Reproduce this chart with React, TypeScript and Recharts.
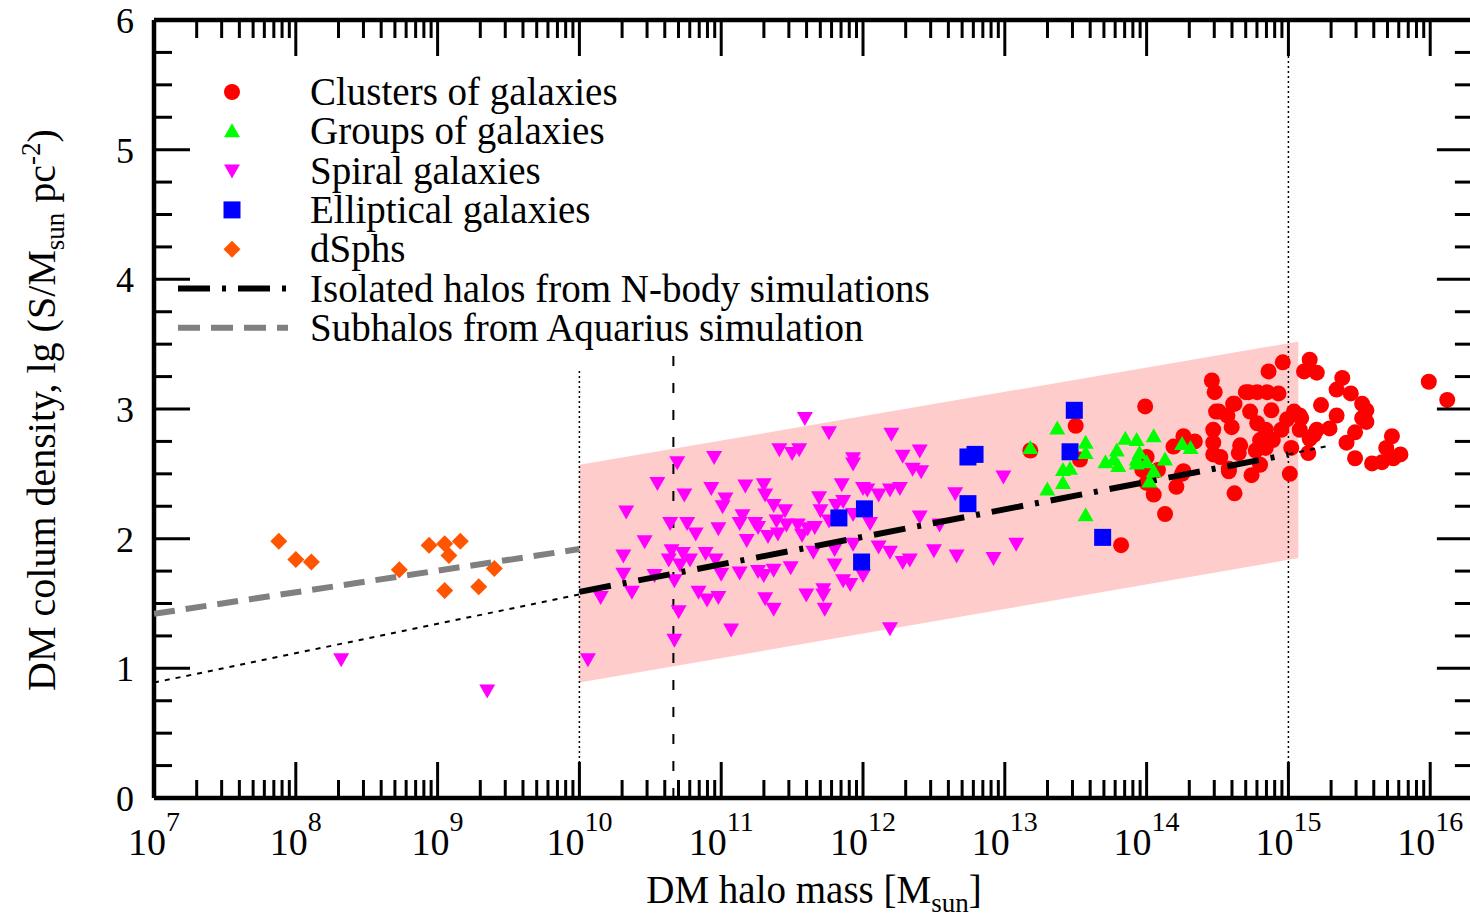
import React from "react";
import {
  ComposedChart,
  XAxis,
  YAxis,
  Scatter,
  Line,
  Area,
  ReferenceLine,
  Legend,
} from "recharts";

const FONT = '"Liberation Serif", "Times New Roman", "DejaVu Serif", serif';

// [lg M, lg S]
const clustersLg: [number, number][] = [
  [13.18, 2.68], [13.5, 2.87], [13.53, 2.61], [13.82, 1.95], [13.99, 3.02], [13.97, 2.53],
  [14.0, 2.63], [14.08, 2.53], [14.0, 2.43], [14.05, 2.34], [14.13, 2.19], [14.21, 2.4],
  [14.25, 2.5], [14.26, 2.79], [14.19, 2.71], [14.34, 2.75], [14.46, 3.22], [14.48, 3.13],
  [14.49, 2.98], [14.47, 2.84], [14.47, 2.74], [14.47, 2.65], [14.52, 2.63], [14.58, 2.54],
  [14.62, 2.35], [14.65, 2.66], [14.62, 3.04], [14.6, 2.86], [14.57, 2.95], [14.72, 3.13],
  [14.78, 3.13], [14.85, 3.13], [14.93, 3.12], [14.86, 3.29], [14.96, 3.36], [14.73, 2.98],
  [14.78, 2.89], [14.88, 2.99], [14.84, 2.84], [14.82, 2.72], [14.74, 2.49], [14.8, 2.57],
  [14.99, 2.92], [14.95, 2.84], [14.89, 2.76], [15.01, 2.5], [15.08, 2.95], [15.15, 3.38],
  [15.11, 3.29], [15.2, 3.28], [15.08, 2.84], [15.15, 2.77], [15.14, 2.66], [15.2, 2.84],
  [15.23, 3.03], [15.29, 2.85], [15.34, 2.95], [15.34, 3.15], [15.38, 3.24], [15.44, 3.12],
  [15.52, 3.04], [15.55, 2.99], [15.52, 2.93], [15.55, 2.9], [15.47, 2.82], [15.41, 2.74],
  [15.47, 2.62], [15.59, 2.58], [15.66, 2.59], [15.73, 2.79], [15.69, 2.7], [15.74, 2.62],
  [15.79, 2.65], [15.99, 3.21], [16.12, 3.07], [15.04, 2.98], [14.66, 2.72], [14.27, 2.76],
  [14.26, 2.52], [14.58, 2.52], [14.77, 2.68], [14.8, 2.76], [14.84, 2.7], [15.09, 2.93],
  [15.02, 2.7], [15.18, 2.8], [14.7, 3.13], [14.61, 3.04], [14.51, 2.98],
];

const groupsLg: [number, number][] = [
  [13.18, 2.7], [13.37, 2.85], [13.57, 2.74], [13.57, 2.66], [13.41, 2.53], [13.46, 2.54],
  [13.41, 2.43], [13.3, 2.38], [13.57, 2.18], [13.71, 2.59], [13.77, 2.61], [13.79, 2.68],
  [13.8, 2.56], [13.85, 2.77], [13.93, 2.76], [13.93, 2.61], [13.95, 2.66], [14.05, 2.79],
  [13.93, 2.58], [14.0, 2.59], [14.13, 2.61], [14.05, 2.52], [14.02, 2.44], [14.25, 2.73],
  [14.31, 2.7],
];

const spiralsLg: [number, number][] = [
  [8.32, 1.07], [9.35, 0.83], [10.06, 1.07],
  [11.59, 2.93], [11.76, 2.82], [11.41, 2.69], [11.5, 2.66], [11.55, 2.69], [10.95, 2.63],
  [10.69, 2.59], [11.93, 2.62], [11.93, 2.58], [10.55, 2.43], [10.74, 2.34], [10.93, 2.39],
  [11.03, 2.31], [11.01, 2.25], [11.17, 2.41], [11.3, 2.42], [11.31, 2.34], [11.37, 2.26],
  [11.45, 2.22], [10.33, 2.21], [11.85, 2.42], [11.86, 2.29], [11.81, 2.26], [11.69, 2.32],
  [11.7, 2.22], [11.76, 2.14], [12.0, 2.39], [10.64, 2.12], [10.76, 2.12], [10.82, 2.04],
  [10.98, 2.08], [11.15, 2.18], [11.13, 2.12], [11.24, 2.12], [11.26, 2.09], [11.39, 2.14],
  [11.46, 2.11], [11.54, 2.11], [11.61, 2.08], [11.66, 2.09], [11.57, 2.03], [11.18, 1.99],
  [11.33, 2.02], [11.4, 2.04], [10.46, 1.98], [10.65, 1.91], [10.73, 1.89], [10.78, 1.84],
  [10.89, 1.89], [10.63, 1.84], [10.71, 1.8], [10.96, 1.84], [10.31, 1.87], [10.31, 1.73],
  [10.53, 1.72], [10.67, 1.68], [11.0, 1.73], [11.13, 1.74], [11.26, 1.75], [11.37, 1.76],
  [11.3, 1.72], [11.49, 1.78], [11.8, 1.8], [11.65, 1.9], [11.8, 1.92], [11.93, 1.96],
  [11.86, 1.68], [11.91, 1.65], [12.0, 1.72], [10.15, 1.55], [10.37, 1.59], [10.84, 1.59],
  [10.9, 1.53], [10.98, 1.55], [11.31, 1.54], [11.37, 1.46], [11.6, 1.57], [11.72, 1.61],
  [11.72, 1.57], [11.73, 1.46], [10.7, 1.44], [11.07, 1.3], [10.67, 1.22],
  [12.2, 2.81], [12.28, 2.64], [12.4, 2.68], [12.35, 2.54], [12.41, 2.52], [12.03, 2.38],
  [12.11, 2.34], [12.19, 2.38], [12.26, 2.39], [12.65, 2.35], [12.99, 2.48], [11.93, 2.19],
  [12.05, 2.12], [12.4, 2.17], [12.54, 2.11], [12.11, 1.94], [12.19, 1.9], [12.5, 1.91],
  [12.66, 1.87], [12.28, 1.82], [12.33, 1.84], [12.92, 1.85], [13.08, 1.96], [12.19, 1.31],
];

const ellipticalsLg: [number, number][] = [
  [11.83, 2.16], [12.01, 2.23], [11.99, 1.82], [12.74, 2.63], [12.79, 2.65],
  [12.74, 2.27], [13.49, 2.99], [13.46, 2.67], [13.69, 2.01],
];

const dsphsLg: [number, number][] = [
  [7.88, 1.98], [8.0, 1.84], [8.11, 1.82], [8.73, 1.76], [8.94, 1.95], [9.05, 1.96],
  [9.16, 1.98], [9.08, 1.87], [9.4, 1.77], [9.05, 1.6], [9.29, 1.63],
];

// lines
const isolatedLg: [number, number][] = [[10, 1.59], [15, 2.65]];
const isolatedLeftLg: [number, number][] = [[7, 0.89], [10, 1.57]];
const isolatedRightLg: [number, number][] = [[15, 2.65], [15.3, 2.72]];
const subhalosLg: [number, number][] = [[7, 1.42], [10, 1.92]];

// pink band: [lg M, lower, upper]
const bandLg: [number, number, number][] = [
  [10, 0.89, 2.57],
  [15.07, 1.85, 3.52],
];

const toPts = (arr: [number, number][]) => arr.map(([lm, s]) => ({ m: Math.pow(10, lm), s }));

const clusters = toPts(clustersLg);
const groups = toPts(groupsLg);
const spirals = toPts(spiralsLg);
const ellipticals = toPts(ellipticalsLg);
const dsphs = toPts(dsphsLg);
const isolated = toPts(isolatedLg);
const isolatedLeft = toPts(isolatedLeftLg);
const isolatedRight = toPts(isolatedRightLg);
const subhalos = toPts(subhalosLg);
const band = bandLg.map(([lm, lo, hi]) => ({ m: Math.pow(10, lm), band: [lo, hi] }));

const xTicks: number[] = [];
for (let n = 7; n <= 16; n++) {
  for (let k = 1; k <= 9; k++) {
    if (n === 16 && k > 1) break;
    xTicks.push(k * Math.pow(10, n));
  }
}
const yTicks: number[] = [];
for (let i = 0; i <= 24; i++) yTicks.push(i * 0.25);

const isMajorX = (v: number) => {
  const l = Math.log10(v);
  return Math.abs(l - Math.round(l)) < 1e-6;
};

const MAJOR = 36;
const MINOR = 18;

const XTickBottom = (props: any) => {
  const { x, y, payload } = props;
  const major = isMajorX(payload.value);
  const lg = Math.round(Math.log10(payload.value));
  return (
    <g>
      <line x1={x} x2={x} y1={y} y2={y - (major ? MAJOR : MINOR)} stroke="#000" strokeWidth={3} />
      {major && (
        <text x={x} y={y + 57} textAnchor="middle" fontSize={38} fontFamily={FONT} fill="#000">
          10
          <tspan dy={-24} fontSize={28}>{lg}</tspan>
        </text>
      )}
    </g>
  );
};

const XTickTop = (props: any) => {
  const { x, y, payload } = props;
  const major = isMajorX(payload.value);
  return <line x1={x} x2={x} y1={y} y2={y + (major ? MAJOR : MINOR)} stroke="#000" strokeWidth={3} />;
};

const YTickLeft = (props: any) => {
  const { x, y, payload } = props;
  const major = Math.abs(payload.value - Math.round(payload.value)) < 1e-6;
  return (
    <g>
      <line x1={x} x2={x + (major ? MAJOR : MINOR)} y1={y} y2={y} stroke="#000" strokeWidth={3} />
      {major && (
        <text x={x - 20} y={y + 13} textAnchor="end" fontSize={36} fontFamily={FONT} fill="#000">
          {Math.round(payload.value)}
        </text>
      )}
    </g>
  );
};

const YTickRight = (props: any) => {
  const { x, y, payload } = props;
  const major = Math.abs(payload.value - Math.round(payload.value)) < 1e-6;
  return <line x1={x} x2={x - (major ? MAJOR : MINOR)} y1={y} y2={y} stroke="#000" strokeWidth={3} />;
};

const Dot = (p: any) => <circle cx={p.cx} cy={p.cy} r={8} fill="#ff0000" />;
const TriUp = (p: any) => (
  <polygon points={`${p.cx},${p.cy - 8} ${p.cx + 8},${p.cy + 6} ${p.cx - 8},${p.cy + 6}`} fill="#00ff00" />
);
const TriDown = (p: any) => (
  <polygon points={`${p.cx},${p.cy + 8} ${p.cx + 8},${p.cy - 6} ${p.cx - 8},${p.cy - 6}`} fill="#ff00ff" />
);
const Square = (p: any) => <rect x={p.cx - 8.5} y={p.cy - 8.5} width={17} height={17} fill="#0000ff" />;
const Diamond = (p: any) => (
  <polygon points={`${p.cx},${p.cy - 8.5} ${p.cx + 8.5},${p.cy} ${p.cx},${p.cy + 8.5} ${p.cx - 8.5},${p.cy}`} fill="#ff5500" />
);

const legendRows = [
  { label: "Clusters of galaxies", kind: "circle" },
  { label: "Groups of galaxies", kind: "up" },
  { label: "Spiral galaxies", kind: "down" },
  { label: "Elliptical galaxies", kind: "square" },
  { label: "dSphs", kind: "diamond" },
  { label: "Isolated halos from N-body simulations", kind: "dashdot" },
  { label: "Subhalos from Aquarius simulation", kind: "dashed" },
];

const LegendBox = () => (
  <svg width={1000} height={360}>
    {legendRows.map((r, i) => {
      const cy = 92 + i * 39.3;
      const cx = 232;
      let sym: React.ReactNode = null;
      if (r.kind === "circle") sym = <Dot cx={cx} cy={cy} />;
      if (r.kind === "up") sym = <TriUp cx={cx} cy={cy} />;
      if (r.kind === "down") sym = <TriDown cx={cx} cy={cy} />;
      if (r.kind === "square") sym = <Square cx={cx} cy={cy} />;
      if (r.kind === "diamond") sym = <Diamond cx={cx} cy={cy} />;
      if (r.kind === "dashdot")
        sym = <line x1={178} x2={288} y1={cy} y2={cy} stroke="#000" strokeWidth={6} strokeDasharray="32 12 4 12" />;
      if (r.kind === "dashed")
        sym = <line x1={178} x2={288} y1={cy} y2={cy} stroke="#808080" strokeWidth={6} strokeDasharray="22 11" />;
      return (
        <g key={r.label}>
          {sym}
          <text x={310} y={cy + 13} fontSize={39} fontFamily={FONT} fill="#000">
            {r.label}
          </text>
        </g>
      );
    })}
  </svg>
);

export default function App() {
  const W = 1500;
  const H = 918;
  const left = 154;
  const top = 20;
  const plotW = 1318.9;
  const plotH = 778;
  const AX = 1; // reserved axis thickness
  return (
    <div style={{ position: "absolute", left: 0, top: 0, width: 1470, height: 918, overflow: "hidden", background: "#fff" }}>
      <ComposedChart
        width={W}
        height={H}
        margin={{
          top: top - AX,
          left: left - AX,
          right: W - left - plotW - AX,
          bottom: H - top - plotH - AX,
        }}
      >
        <XAxis
          xAxisId={0}
          dataKey="m"
          type="number"
          scale="log"
          domain={[1e7, 2e16]}
          allowDataOverflow
          ticks={xTicks}
          interval={0}
          height={AX}
          tickSize={0}
          tickMargin={0}
          tickLine={false}
          axisLine={{ stroke: "#000", strokeWidth: 4.5 }}
          tick={XTickBottom}
        />
        <XAxis
          xAxisId="top"
          orientation="top"
          dataKey="m"
          type="number"
          scale="log"
          domain={[1e7, 2e16]}
          allowDataOverflow
          ticks={xTicks}
          interval={0}
          height={AX}
          tickSize={0}
          tickMargin={0}
          tickLine={false}
          axisLine={{ stroke: "#000", strokeWidth: 4.5 }}
          tick={XTickTop}
        />
        <YAxis
          yAxisId={0}
          dataKey="s"
          type="number"
          domain={[0, 6]}
          allowDataOverflow
          ticks={yTicks}
          interval={0}
          width={AX}
          tickSize={0}
          tickMargin={0}
          tickLine={false}
          axisLine={{ stroke: "#000", strokeWidth: 4.5 }}
          tick={YTickLeft}
        />
        <YAxis
          yAxisId="right"
          orientation="right"
          type="number"
          domain={[0, 6]}
          allowDataOverflow
          ticks={yTicks}
          interval={0}
          width={AX}
          tickSize={0}
          tickMargin={0}
          tickLine={false}
          axisLine={{ stroke: "#000", strokeWidth: 4.5 }}
          tick={YTickRight}
        />

        <Area
          data={band}
          dataKey="band"
          type="linear"
          stroke="none"
          fill="#ffcccc"
          fillOpacity={1}
          isAnimationActive={false}
        />

        <ReferenceLine
          segment={[{ x: 1e10, y: 0 }, { x: 1e10, y: 3.3 }]}
          stroke="#000"
          strokeWidth={1.5}
          strokeDasharray="2 3"
        />
        <ReferenceLine
          segment={[{ x: 4.6e10, y: 0 }, { x: 4.6e10, y: 3.42 }]}
          stroke="#000"
          strokeWidth={2}
          strokeDasharray="10 17"
        />
        <ReferenceLine
          segment={[{ x: 1e15, y: 0 }, { x: 1e15, y: 6 }]}
          stroke="#000"
          strokeWidth={1.5}
          strokeDasharray="2 3"
        />

        <Scatter data={clusters} shape={Dot} isAnimationActive={false} />
        <Scatter data={spirals} shape={TriDown} isAnimationActive={false} />
        <Scatter data={ellipticals} shape={Square} isAnimationActive={false} />
        <Scatter xAxisId="top" data={dsphs} shape={Diamond} isAnimationActive={false} />

        <Line data={isolatedLeft} dataKey="s" type="linear" stroke="#000" strokeWidth={2} strokeDasharray="5 6" dot={false} isAnimationActive={false} zIndex={650} />
        <Line data={isolatedRight} dataKey="s" type="linear" stroke="#000" strokeWidth={2} strokeDasharray="5 6" dot={false} isAnimationActive={false} zIndex={650} />
        <Line data={isolated} dataKey="s" type="linear" stroke="#000" strokeWidth={6} strokeDasharray="32 12 4 12" dot={false} isAnimationActive={false} zIndex={650} />
        <Line data={subhalos} dataKey="s" type="linear" stroke="#808080" strokeWidth={6} strokeDasharray="21 11" dot={false} isAnimationActive={false} zIndex={650} />

        <Scatter data={groups} shape={TriUp} isAnimationActive={false} zIndex={700} />

        <Legend
          layout="horizontal"
          verticalAlign="middle"
          content={() => <LegendBox />}
          wrapperStyle={{ position: "absolute", left: 0, top: 0, width: 1000, height: 360 }}
        />

        <text x={814} y={903} textAnchor="middle" fontSize={39} fontFamily={FONT} fill="#000">
          DM halo mass [M<tspan dy={9} fontSize={27}>sun</tspan><tspan dy={-9}>]</tspan>
        </text>
        <text
          x={55}
          y={410}
          textAnchor="middle"
          fontSize={40}
          fontFamily={FONT}
          fill="#000"
          transform="rotate(-90, 55, 410)"
        >
          DM colum density, lg (S/M<tspan dy={9} fontSize={27}>sun</tspan>
          <tspan dy={-9}> pc</tspan>
          <tspan dy={-15} fontSize={27}>-2</tspan>
          <tspan dy={15}>)</tspan>
        </text>
      </ComposedChart>
    </div>
  );
}
